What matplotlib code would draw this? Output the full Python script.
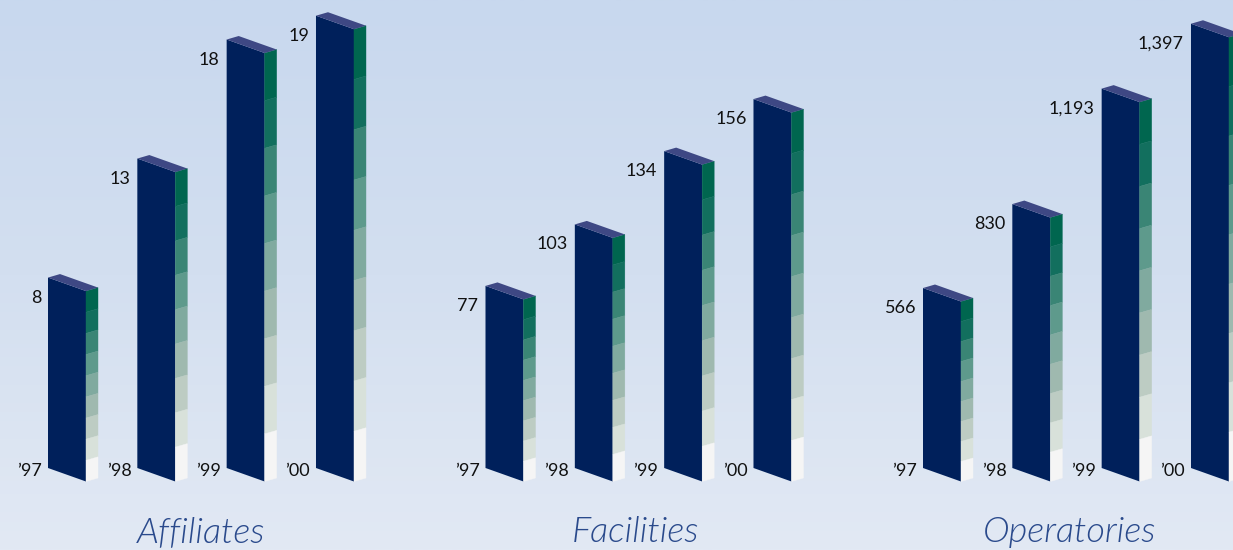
import numpy as np
import matplotlib
matplotlib.use("Agg")
import matplotlib.pyplot as plt
from matplotlib.patches import Polygon
from matplotlib.colors import LinearSegmentedColormap

# ---------------- data ----------------
years = ["\u201997", "\u201998", "\u201999", "\u201900"]
group_names = ["Affiliates", "Facilities", "Operatories"]
affiliates = [8, 13, 18, 19]
facilities = [77, 103, 134, 156]
operatories = [566, 830, 1193, 1397]
series = [affiliates, facilities, operatories]
# value-axis top for each panel (sets each panel's own scale)
y_tops = [19.66, 197.9, 1471.7]

# ---------------- style ----------------
FONT = ["Lato", "DejaVu Sans"]
plt.rcParams["font.family"] = FONT
FRONT = "#00205b"
TOP = "#3e4884"
BANDS = ["#00664f", "#126f5e", "#3a8575", "#5e9a8c", "#80aa9f",
         "#9fb9af", "#bdccc3", "#d8e1da", "#f5f5f5"]
TITLE_C = "#2a4a8c"

W, H = 1233, 550
fig = plt.figure(figsize=(W / 100, H / 100), dpi=100)

# background gradient
bg = fig.add_axes([0, 0, 1, 1])
cmap = LinearSegmentedColormap.from_list(
    "bg", ["#c8d8ee", "#d3dff0", "#e2e9f4"])
bg.imshow(np.linspace(0, 1, 256).reshape(-1, 1), aspect="auto",
          cmap=cmap, extent=[0, 1, 0, 1], origin="upper")
bg.set_xlim(0, 1)
bg.set_ylim(0, 1)
bg.axis("off")

STEP = 89.33          # px between bars
BASE_PX = 468         # px from top where value 0 sits
HALF_W = 19.0 / STEP  # half front width in index units
SLANT = 13.5          # px drop across the front face
DX, DY = 12.0, 3.5    # depth offset in px
first_centres = [67, 504.5, 942]


def off(ax, x, y, dx=0.0, dy=0.0):
    p = ax.transData.transform((x, y))
    return ax.transData.inverted().transform(p + np.array([dx, dy]))


for g, (vals, ytop, c0, name) in enumerate(zip(series, y_tops, first_centres, group_names)):
    left_px = c0 - 0.75 * STEP
    width_px = 4.5 * STEP
    ax = fig.add_axes([left_px / W, (H - BASE_PX) / H, width_px / W, BASE_PX / H])
    ax.set_xlim(-0.75, 3.75)
    ax.set_ylim(0, ytop)
    ax.axis("off")
    ax.patch.set_alpha(0)

    for i, v in enumerate(vals):
        xl, xr = i - HALF_W, i + HALF_W
        front = [off(ax, xl, 0), off(ax, xl, v),
                 off(ax, xr, v, 0, -SLANT), off(ax, xr, 0, 0, -SLANT)]
        ax.add_patch(Polygon(front, closed=True, fc=FRONT, ec="none", clip_on=False))
        nb = len(BANDS)
        for k, col in enumerate(BANDS):
            yt = v * (1 - k / nb)
            yb = v * (1 - (k + 1) / nb)
            side = [off(ax, xr, yb, 0, -SLANT), off(ax, xr, yt, 0, -SLANT),
                    off(ax, xr, yt, DX, -SLANT + DY), off(ax, xr, yb, DX, -SLANT + DY)]
            ax.add_patch(Polygon(side, closed=True, fc=col, ec=col, lw=0.3, clip_on=False))
        top = [off(ax, xl, v), off(ax, xr, v, 0, -SLANT),
               off(ax, xr, v, DX, -SLANT + DY), off(ax, xl, v, DX, DY)]
        ax.add_patch(Polygon(top, closed=True, fc=TOP, ec="none", clip_on=False))

        ax.annotate(f"{v:,}", (xl, v), xytext=(-7, -20), textcoords="offset pixels",
                    ha="right", va="center", fontsize=13, color="#111111",
                    annotation_clip=False)
        ax.annotate(years[i], (xl, 0), xytext=(-6, -3), textcoords="offset pixels",
                    ha="right", va="center", fontsize=13, color="#111111",
                    annotation_clip=False)

    ax.annotate(name, (1.5, 0), xytext=(-3 * g, -64), textcoords="offset pixels",
                ha="center", va="center", fontsize=26, style="italic",
                fontweight=300, color=TITLE_C, annotation_clip=False)

fig.savefig("out.png", dpi=100)
